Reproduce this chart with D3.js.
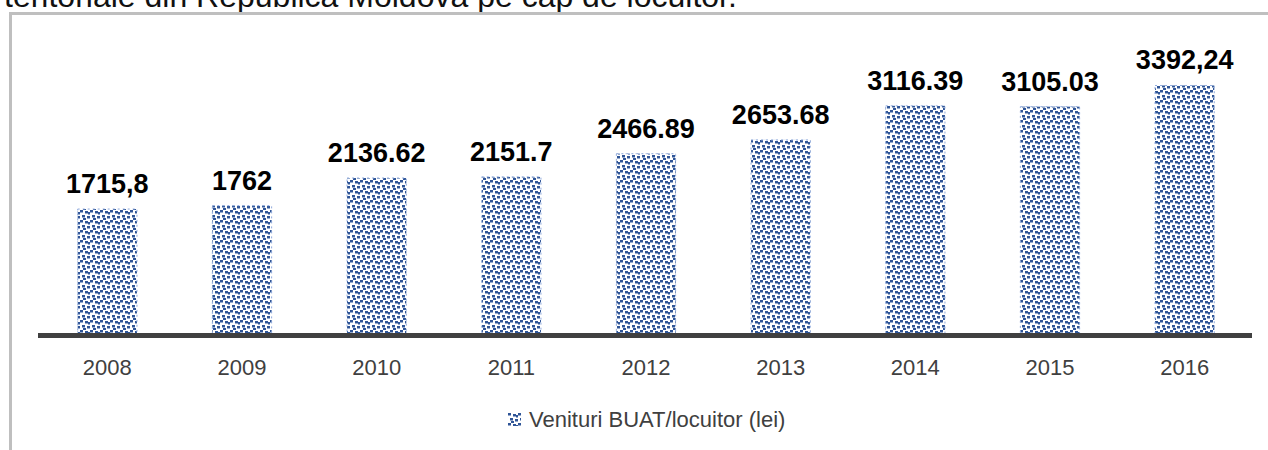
<!DOCTYPE html>
<html>
<head>
<meta charset="utf-8">
<style>
  body { margin: 0; background: #fff; }
  svg { display: block; }
</style>
<script src="https://cdn.jsdelivr.net/npm/d3@7"></script>
</head>
<body>
<svg id="chart" width="1268" height="450"></svg>
<script>
// data
let years = ["2008", "2009", "2010", "2011", "2012", "2013", "2014", "2015", "2016"]
let values = [1715.8, 1762, 2136.62, 2151.7, 2466.89, 2653.68, 3116.39, 3105.03, 3392.24]
// labels as printed (mixed separators in the original)
let valueLabels = ["1715,8", "1762", "2136.62", "2151.7", "2466.89", "2653.68", "3116.39", "3105.03", "3392,24"]
let seriesName = "Venituri BUAT/locuitor (lei)"
let titleText = "teritoriale din Republica Moldova pe cap de locuitor."

let width = 1268, height = 450
let margin = { left: 40, right: 16, top: 40, baseline: 335.5 }

let svg = d3.select("#chart")

// dotted fill like the original bars
let defs = svg.append("defs")
let pat = defs.append("pattern")
  .attr("id", "dots")
  .attr("patternUnits", "userSpaceOnUse")
  .attr("width", 10).attr("height", 10)
pat.append("rect").attr("width", 10).attr("height", 10).attr("fill", "#fff")
let dotPos = [[0, 0], [5, 1], [2, 5], [7, 6], [8, 2], [3, 8]]
pat.selectAll("rect.d").data(dotPos).enter().append("rect")
  .attr("class", "d")
  .attr("x", d => d[0]).attr("y", d => d[1])
  .attr("width", 3).attr("height", 2.5)
  .attr("fill", "#2f5597")

// title fragment cut off at the top
svg.append("text")
  .attr("x", 4).attr("y", 7)
  .attr("font-family", "Liberation Sans, Arial, sans-serif")
  .attr("font-size", 32)
  .attr("fill", "#111")
  .text(titleText)

// chart frame (top and left edges only visible)
svg.append("path")
  .attr("d", `M10.5,450V13.5H${width}`)
  .attr("fill", "none")
  .attr("stroke", "#bfbfbf")
  .attr("stroke-width", 3)

let x = d3.scaleBand()
  .domain(years)
  .range([margin.left, width - margin.right])
  .paddingInner(0.56)
  .paddingOuter(0.28)

let y = d3.scaleLinear()
  .domain([0, 4000])
  .range([margin.baseline, margin.baseline - 4000 * 0.0737])

// bars
svg.append("g").selectAll("rect").data(years).enter().append("rect")
  .attr("x", d => x(d))
  .attr("y", (d, i) => y(values[i]))
  .attr("width", x.bandwidth())
  .attr("height", (d, i) => y(0) - y(values[i]))
  .attr("fill", "url(#dots)")
  .attr("stroke", "#8faadc")
  .attr("stroke-width", 1)
  .attr("stroke-dasharray", "2,3")

// value labels
svg.append("g").selectAll("text").data(years).enter().append("text")
  .attr("x", d => x(d) + x.bandwidth() / 2)
  .attr("y", (d, i) => y(values[i]) - 16)
  .attr("text-anchor", "middle")
  .attr("font-family", "Liberation Sans, Arial, sans-serif")
  .attr("font-weight", "bold")
  .attr("font-size", 27)
  .attr("fill", "#000")
  .text((d, i) => valueLabels[i])

// x axis
let axisX = d3.axisBottom(x).tickSize(0).tickSizeOuter(0).tickPadding(24)
let gx = svg.append("g")
  .attr("transform", `translate(0,${margin.baseline})`)
  .call(axisX)
gx.select(".domain")
  .attr("d", `M38,0H${width - margin.right}`)
  .attr("stroke", "#404040")
  .attr("stroke-width", 5)
gx.selectAll(".tick text")
  .attr("font-family", "Liberation Sans, Arial, sans-serif")
  .attr("font-size", 22)
  .attr("fill", "#404040")

// legend
let lg = svg.append("g").attr("transform", "translate(508,413)")
lg.append("rect")
  .attr("width", 13).attr("height", 13)
  .attr("fill", "url(#dots)")
lg.append("text")
  .attr("x", 21).attr("y", 14)
  .attr("font-family", "Liberation Sans, Arial, sans-serif")
  .attr("font-size", 22)
  .attr("fill", "#404040")
  .text(seriesName)
</script>
</body>
</html>
